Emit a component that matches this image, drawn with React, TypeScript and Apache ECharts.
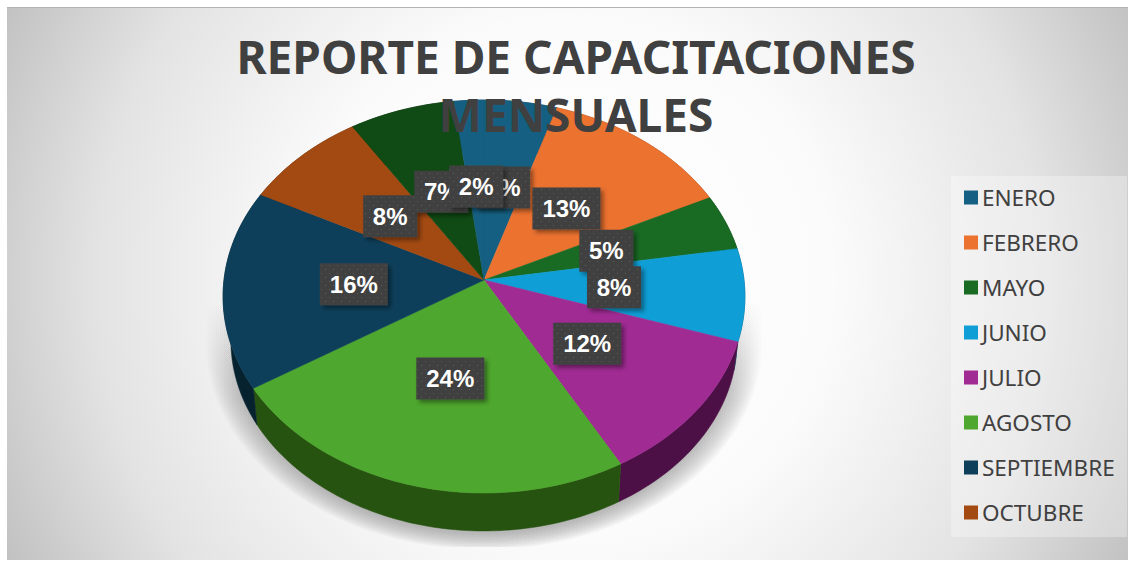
import React, { useEffect, useRef } from "react";
import * as echarts from "echarts";

const titleText = "REPORTE DE CAPACITACIONES\nMENSUALES";
const months = ["ENERO", "FEBRERO", "MAYO", "JUNIO", "JULIO", "AGOSTO", "SEPTIEMBRE", "OCTUBRE"];
// The picture has ten slices, but its legend only names the first eight.
const unlabelledSlices = ["(sin leyenda 1)", "(sin leyenda 2)"];
const values = [4.9, 12.9, 4.6, 7.6, 11.9, 24.2, 16.4, 8.4, 7.1, 2.0];
const topColors = ["#156082", "#EC7230", "#196B24", "#0F9ED5", "#A02B93", "#4EA72E", "#0E3F5A", "#A34A12", "#104A14", "#156082"];
const sideColors = ["#0A3041", "#743919", "#0C3512", "#084F6A", "#4C1046", "#275310", "#07222F", "#522509", "#08250A", "#0A3041"];

const W = 1134;
const H = 561;
const APEX_X = 484;
const APEX_Y = 280;
const K = 0.0839;
const A = 260;
const B = 195.1;
const SIDE_SCALE = 0.97;
const SEAM_SCALE = 0.985;
const FACE_CY = 296.5;
const FACE_RX = 261;
const FACE_RY = 196.5;
const BASE_CY = 340.4;
const LABEL_R = 0.5;

const names = [...months, ...unlabelledSlices];
const total = values.reduce((s, v) => s + v, 0);
const bounds: number[] = [0];
values.forEach((v, i) => bounds.push(bounds[i] + (v / total) * Math.PI * 2));

function project(theta: number, r = 1): [number, number] {
  const u = r * Math.sin(theta);
  const v = r * Math.cos(theta);
  const w = 1 + K * v;
  return [APEX_X + (A * u) / w, APEX_Y - (B * v) / w];
}
function toBase(p: [number, number]): [number, number] {
  const dx = p[0] - APEX_X;
  if (p[1] < FACE_CY) {
    return [APEX_X + dx * SIDE_SCALE, BASE_CY + (p[1] - FACE_CY) * SIDE_SCALE];
  }
  const rx = FACE_RX * SIDE_SCALE;
  const ry = FACE_RY * SIDE_SCALE;
  const ratio = Math.max(-1, Math.min(1, (dx * SEAM_SCALE) / rx));
  return [APEX_X + ratio * rx, BASE_CY + ry * Math.sqrt(1 - ratio * ratio)];
}
function arc(i: number): [number, number][] {
  const a0 = bounds[i];
  const a1 = bounds[i + 1];
  const n = Math.max(4, Math.ceil((a1 - a0) / 0.02));
  const out: [number, number][] = [];
  for (let k = 0; k <= n; k++) out.push(project(a0 + ((a1 - a0) * k) / n));
  return out;
}

function dotPattern() {
  const c = document.createElement("canvas");
  c.width = 8;
  c.height = 8;
  const g = c.getContext("2d")!;
  g.fillStyle = "#404040";
  g.fillRect(0, 0, 8, 8);
  g.fillStyle = "#5c5c5c";
  g.fillRect(1, 1, 1, 1);
  g.fillRect(5, 5, 1, 1);
  return { image: c, repeat: "repeat" };
}

export default function App() {
  const ref = useRef<HTMLDivElement>(null);
  useEffect(() => {
    if (!ref.current) return;
    const chart = echarts.init(ref.current, undefined, { renderer: "svg" });
    const pattern = dotPattern();

    const shadowLayers: any[] = [];
    for (let l = 0; l < 14; l++) {
      const grow = 26 - l * 2;
      const pts: number[][] = [];
      const rx = 252 + grow;
      const ry = 192 + grow * 0.6;
      const cy = 342;
      pts.push([APEX_X - rx, 300]);
      pts.push([APEX_X + rx, 300]);
      for (let k = 0; k <= 60; k++) {
        const t = (Math.PI * k) / 60;
        pts.push([APEX_X + rx * Math.cos(t), Math.min(547, cy + ry * Math.sin(t))]);
      }
      shadowLayers.push({
        type: "polygon",
        shape: { points: pts },
        style: {
          fill: new echarts.graphic.LinearGradient(0, 0, 0, 1, [
            { offset: 0, color: "rgba(120,120,120,0)" },
            { offset: 0.4, color: "rgba(120,120,120,0.045)" },
            { offset: 1, color: "rgba(120,120,120,0.05)" },
          ]),
        },
      });
    }

    const sideSeries = {
      type: "custom",
      name: "lados",
      coordinateSystem: "none",
      silent: true,
      z: 2,
      data: [[0]],
      renderItem: () => ({
        type: "group",
        children: [
          ...shadowLayers,
          ...values.map((_, i) => {
            const top = arc(i);
            const bottom = top.map(toBase).reverse();
            return {
              type: "polygon",
              shape: { points: [...top, ...bottom] },
              style: { fill: sideColors[i], stroke: sideColors[i], lineWidth: 0.5 },
            };
          }),
        ],
      }),
    };

    const sliceSeries = names.map((name, i) => ({
      type: "custom",
      name,
      coordinateSystem: "none",
      silent: true,
      z: 3,
      itemStyle: { color: topColors[i] },
      data: [[values[i]]],
      renderItem: () => ({
        type: "polygon",
        shape: { points: [[APEX_X, APEX_Y], ...arc(i)] },
        style: { fill: topColors[i], stroke: topColors[i], lineWidth: 0.6 },
      }),
    }));

    const labelSeries = {
      type: "custom",
      name: "etiquetas",
      coordinateSystem: "none",
      silent: true,
      z: 5,
      data: [[0]],
      renderItem: () => ({
        type: "group",
        children: values.flatMap((v, i) => {
          const p = project((bounds[i] + bounds[i + 1]) / 2, LABEL_R);
          const text = `${Math.round((v / total) * 100)}%`;
          const w = text.length > 2 ? 68 : 54;
          return [
            {
              type: "rect",
              shape: { x: p[0] - w / 2, y: p[1] - 21, width: w, height: 42 },
              style: {
                fill: pattern,
                shadowColor: "rgba(0,0,0,0.4)",
                shadowBlur: 4,
                shadowOffsetX: 3,
                shadowOffsetY: 3,
              },
            },
            {
              type: "text",
              style: {
                text,
                x: p[0],
                y: p[1],
                align: "center",
                verticalAlign: "middle",
                fill: "#ffffff",
                font: 'bold 24px "Liberation Sans"',
              },
            },
          ];
        }),
      }),
    };

    chart.setOption({
      animation: false,
      title: {
        text: titleText,
        left: 571,
        top: 22,
        textAlign: "center",
        z: 8,
        textStyle: {
          fontFamily: "Noto Sans",
          fontWeight: "bold",
          fontSize: 46,
          lineHeight: 58,
          color: "#404040",
        },
      },
      legend: {
        data: months,
        orient: "vertical",
        left: 964,
        top: 186,
        height: 365,
        padding: 0,
        itemWidth: 14,
        itemHeight: 14,
        itemGap: 22,
        icon: "rect",
        selectedMode: false,
        textStyle: { fontFamily: "Noto Sans", fontSize: 22.5, color: "#404040", padding: [0, 0, 3, -1] },
      },
      graphic: [
        {
          type: "rect",
          z: -10,
          silent: true,
          shape: { x: 7, y: 7, width: 1121, height: 553 },
          style: {
            fill: new echarts.graphic.RadialGradient(
              570,
              280,
              625,
              [
                { offset: 0, color: "#ffffff" },
                { offset: 0.42, color: "#fbfbfb" },
                { offset: 0.76, color: "#e3e3e3" },
                { offset: 1, color: "#c2c2c2" },
              ],
              true
            ),
          },
        },
        {
          type: "line",
          z: -9,
          silent: true,
          shape: { x1: 7, y1: 7.5, x2: 1128, y2: 7.5 },
          style: { stroke: "#b4b4b4", lineWidth: 1 },
        },
        {
          type: "rect",
          z: -8,
          silent: true,
          shape: { x: 951, y: 176, width: 176, height: 361 },
          style: { fill: "rgba(255,255,255,0.3)" },
        },
      ],
      series: [sideSeries, ...sliceSeries, labelSeries],
    });
    return () => chart.dispose();
  }, []);
  return <div ref={ref} style={{ position: "fixed", left: 0, top: 0, width: W, height: H, background: "#fff" }} />;
}
